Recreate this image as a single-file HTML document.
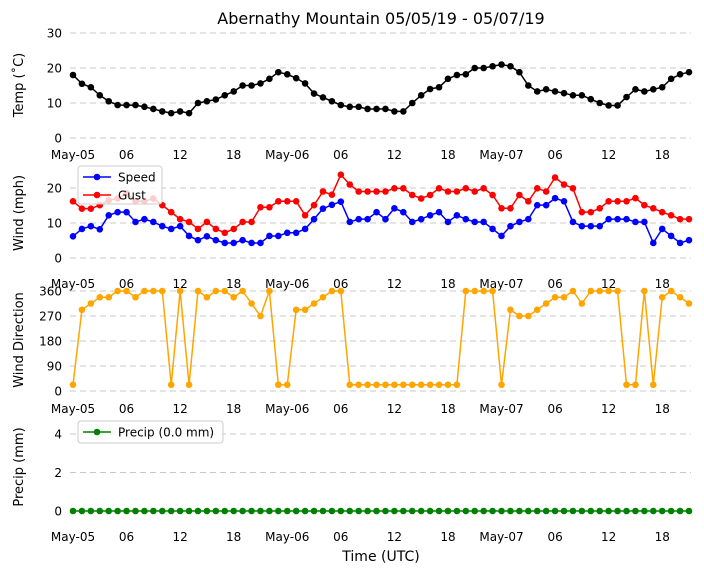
<!DOCTYPE html>
<html><head><meta charset="utf-8"><style>
body{margin:0;background:#fff;}
svg text{font-family:"DejaVu Sans","Liberation Sans",sans-serif;fill:#000;}
</style></head><body>
<svg id="chart" width="704" height="573" viewBox="0 0 704 573" xmlns="http://www.w3.org/2000/svg">
<text x="381" y="24" font-size="16" text-anchor="middle">Abernathy Mountain 05/05/19 - 05/07/19</text>
<text x="381" y="561" font-size="14" text-anchor="middle">Time (UTC)</text>
</svg>
<script>
const hours = Array.from({length:70},(_,i)=>i);
const temp = [18,15.5,14.5,12.2,10.5,9.4,9.4,9.4,8.9,8.3,7.6,7.1,7.6,7.1,10,10.5,11,12.2,13.3,15,15,15.6,16.9,18.8,18.2,17.1,15.6,12.7,11.6,10.5,9.4,8.9,8.9,8.3,8.3,8.3,7.6,7.6,10,12.2,14,14.5,16.9,18,18.2,20,20,20.5,21,20.5,18.8,15,13.3,13.9,13.3,12.8,12.2,12.2,11.1,10,9.3,9.3,11.7,13.9,13.3,13.9,14.5,16.9,18.2,18.8];
const speed = [6.2,8.3,9.1,8.2,12.2,13.1,13.1,10.3,11.1,10.3,9.1,8.3,9.1,6.3,5.1,6.2,5.1,4.3,4.3,5.1,4.3,4.3,6.3,6.3,7.2,7.2,8.3,11.1,14.1,15.2,16.1,10.3,11.1,11.1,13.1,11.1,14.2,13.1,10.3,11.1,12.2,13.1,10.3,12.2,11.1,10.3,10.3,8.3,6.3,9.1,10.3,11.1,15.1,15.1,17.1,16.2,10.3,9.1,9.1,9.1,11.1,11.1,11.1,10.3,10.3,4.3,8.3,6.3,4.3,5.1];
const gust = [16.2,14.1,14.1,15.1,16.5,17,18.5,16.2,16.2,17,15.1,13.1,11.1,10.3,8.3,10.3,8.3,7.2,8.3,10.3,10.3,14.5,14.5,16.2,16.2,16.2,12.2,15.1,19,18.1,23.8,21,19,19,19,19,19.9,19.9,18,17,18,19.9,19,19,19.9,19,19.9,18,14.2,14.2,18,16.2,19.9,19,23,21,19.9,13.1,13.1,14.2,16.2,16.2,16.2,17.1,15.1,14.2,13.1,12.2,11.1,11.1];
const direction = [22.5,292.5,315,337.5,337.5,360,360,337.5,360,360,360,22.5,360,22.5,360,337.5,360,360,337.5,360,315,270,360,22.5,22.5,292.5,292.5,315,337.5,360,360,22.5,22.5,22.5,22.5,22.5,22.5,22.5,22.5,22.5,22.5,22.5,22.5,22.5,360,360,360,360,22.5,292.5,270,270,292.5,315,337.5,337.5,360,315,360,360,360,360,22.5,22.5,360,22.5,337.5,360,337.5,315];
const precip = new Array(70).fill(0);
const xTickHours = [0,6,12,18,24,30,36,42,48,54,60,66];
const xTickLabels = ["May-05","06","12","18","May-06","06","12","18","May-07","06","12","18"];

const svg = document.getElementById('chart');
const NS = 'http://www.w3.org/2000/svg';
function mk(tag, attrs, parent){const e=document.createElementNS(NS,tag);for(const k in attrs)e.setAttribute(k,attrs[k]);(parent||svg).appendChild(e);return e;}
const X0=73, X1=689;
const xs = h => X0 + (X1-X0)*h/69;

const panels = [
 {name:'temp', label:'Temp (\u02DAC)', y0:138, ypx:3.5, ticks:[0,10,20,30], xlabY:159},
 {name:'wind', label:'Wind (mph)', y0:258, ypx:3.5, ticks:[0,10,20], xlabY:288},
 {name:'direction', label:'Wind Direction', y0:391, ypx:100/360, ticks:[0,90,180,270,360], xlabY:413},
 {name:'precip', label:'Precip (mm)', y0:511, ypx:19.25, ticks:[0,2,4], xlabY:541}
];

panels.forEach(p=>{
  const ys = v => p.y0 - v*p.ypx;
  const g = mk('g',{});
  
  
  p.ticks.forEach(t=>{
    const ln = mk('line',{x1:70,x2:691,y1:ys(t),y2:ys(t),stroke:'#c8c8c8','stroke-dasharray':'6,4','stroke-width':1},g);
    
    
    const tx = mk('text',{x:62,y:ys(t)+4.5,'font-size':12,'text-anchor':'end'},g);
    tx.textContent = String(t);
    
    
  });
  xTickHours.forEach((h,i)=>{
    const tx = mk('text',{x:xs(h),y:p.xlabY,'font-size':12,'text-anchor':'middle'},g);
    tx.textContent = xTickLabels[i];
    
    
  });
  const cy = p.name==='temp'?85:p.name==='wind'?213:p.name==='direction'?340:467;
  const yl = mk('text',{x:0,y:0,'font-size':13,'text-anchor':'middle',transform:`translate(23,${cy}) rotate(-90)`},g);
  yl.textContent = p.label;
  
  
  p.ys = ys; p.g = g;
});

function series(panel, data, color, name){
  const ys = panel.ys;
  const pl = mk('polyline',{points:data.map((v,i)=>xs(hours[i])+','+ys(v)).join(' '),fill:'none',stroke:color,'stroke-width':1.5},panel.g);
  
  
  data.forEach((v,i)=>{
    const c = mk('circle',{cx:xs(hours[i]),cy:ys(v),r:3.3,fill:color},panel.g);
    
    
  });
}
series(panels[0], temp, '#000', 'temp');
series(panels[1], gust, '#ff0000', 'gust');
series(panels[1], speed, '#0000ff', 'speed');
series(panels[2], direction, '#ffa500', 'direction');
series(panels[3], precip, '#008000', 'precip');

function legend(x,y,w,h,entries,name){
  const g = mk('g',{});
  
  
  mk('rect',{x:x,y:y,width:w,height:h,rx:3,fill:'#fff','fill-opacity':0.8,stroke:'#ccc'},g);
  entries.forEach((e,i)=>{
    const yy = y+11+i*18;
    const eg = mk('g',{},g);
    
    
    mk('line',{x1:x+5,x2:x+33,y1:yy,y2:yy,stroke:e[0],'stroke-width':1.5},eg);
    mk('circle',{cx:x+19,cy:yy,r:3.3,fill:e[0]},eg);
    const t = mk('text',{x:x+40,y:yy+4.5,'font-size':12},eg);
    t.textContent = e[1];
  });
}
legend(78,166,84,38,[['#0000ff','Speed'],['#ff0000','Gust']],'wind-legend');
legend(78,421,145,22,[['#008000','Precip (0.0 mm)']],'precip-legend');
</script>
</body></html>
